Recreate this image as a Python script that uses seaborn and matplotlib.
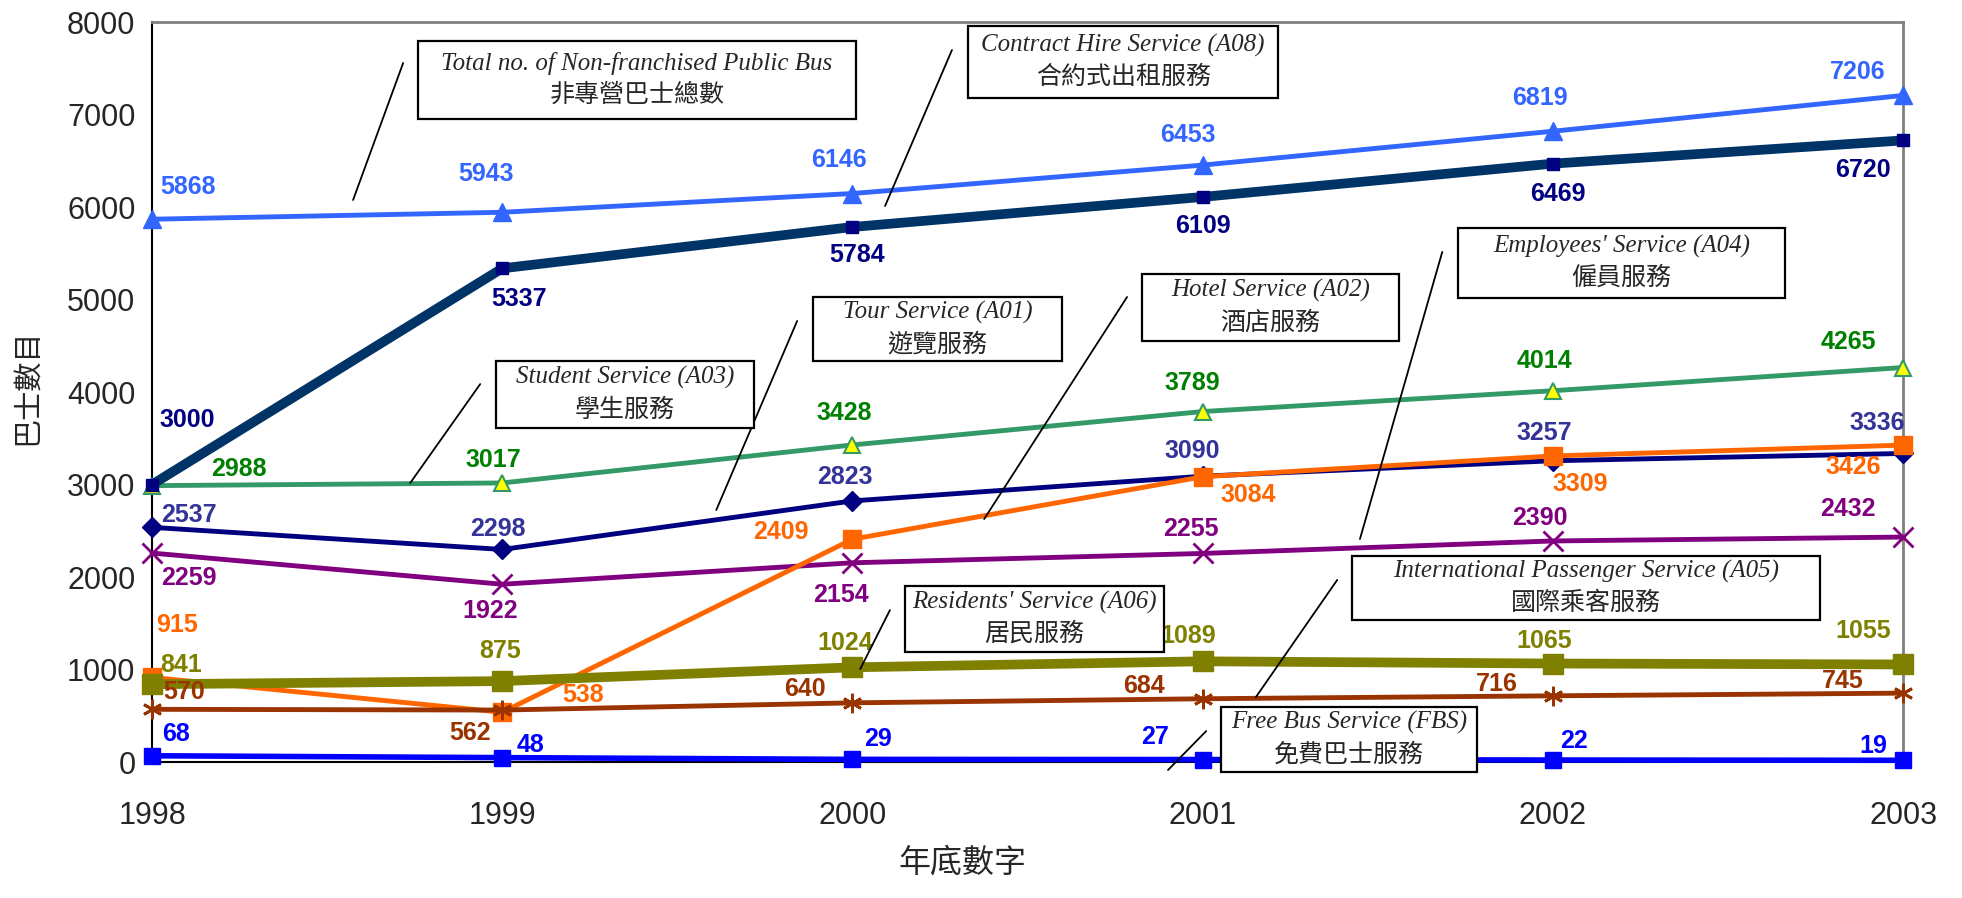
import matplotlib
matplotlib.use("Agg")
import matplotlib.pyplot as plt
from matplotlib.patches import Rectangle
import seaborn as sns

# values (buses at year end)
years = [1998, 1999, 2000, 2001, 2002, 2003]
total = [5868, 5943, 6146, 6453, 6819, 7206]
contract_hire = [3000, 5337, 5784, 6109, 6469, 6720]
student = [2988, 3017, 3428, 3789, 4014, 4265]
tour = [2537, 2298, 2823, 3090, 3257, 3336]
hotel = [915, 538, 2409, 3084, 3309, 3426]
employees = [2259, 1922, 2154, 2255, 2390, 2432]
residents = [841, 875, 1024, 1089, 1065, 1055]
international = [570, 562, 640, 684, 716, 745]
free_bus = [68, 48, 29, 27, 22, 19]

callout_en = ["Total no. of Non-franchised Public Bus", "Contract Hire Service (A08)",
              "Student Service (A03)", "Tour Service (A01)", "Hotel Service (A02)",
              "Employees' Service (A04)", "Residents' Service (A06)",
              "International Passenger Service (A05)", "Free Bus Service (FBS)"]
callout_zh = ["非專營巴士總數", "合約式出租服務", "學生服務", "遊覽服務", "酒店服務",
              "僱員服務", "居民服務", "國際乘客服務", "免費巴士服務"]

sns.set_style("white")
plt.rcParams['font.family'] = ['Liberation Sans', 'Noto Sans CJK TC', 'DejaVu Sans']

fig, ax = plt.subplots(figsize=(19.62, 8.98), dpi=100)
fig.subplots_adjust(left=0.0775, right=0.970, bottom=0.1514, top=0.9755)

# label offsets in pixels (dx, dy) for each point
series = [
    # values, line colour, lw, marker, ms, face, edge, mew, label colour, offsets, z
    (total, '#3366FF', 3.5, '^', 13, '#3366FF', '#3366FF', 1, '#3366FF',
     [(36, 32), (-16, 38), (-14, 34), (-15, 30), (-13, 33), (-45, 23)], 3),
    (student, '#339966', 3.5, '^', 12, '#FFFF00', '#339966', 1.5, '#008000',
     [(87, 17), (-9, 23), (-8, 32), (-10, 29), (-8, 30), (-55, 26)], 4),
    (contract_hire, '#003366', 7, 's', 8, '#000080', '#000080', 1, '#000080',
     [(35, 65), (17, -31), (5, -28), (0, -29), (5, -30), (-40, -30)], 5),
    (tour, '#000080', 3.5, 'D', 10, '#000080', '#000080', 1, '#333399',
     [(37, 12), (-4, 20), (-8, 24), (-10, 25), (-9, 28), (-26, 30)], 6),
    (employees, '#800080', 3.5, 'x', 14, '#800080', '#800080', 2, '#800080',
     [(37, -25), (-12, -27), (-12, -32), (-12, 24), (-13, 23), (-55, 28)], 7),
    (hotel, '#FF6600', 3.5, 's', 13, '#FF6600', '#FF6600', 1, '#FF6600',
     [(25, 52), (81, 17), (-72, 7), (46, -18), (27, -28), (-50, -22)], 8),
    (residents, '#808000', 7, 's', 14, '#808000', '#808000', 1, '#808000',
     [(29, 19), (-2, 30), (-7, 24), (-15, 25), (-9, 23), (-40, 33)], 9),
    (international, '#993300', 3.5, (6, 2, 0), 14, '#993300', '#993300', 2, '#993300',
     [(32, 17), (-32, -23), (-48, 14), (-59, 13), (-56, 12), (-60, 12)], 10),
    (free_bus, '#0000FF', 4, 's', 11, '#0000FF', '#0000FF', 1, '#0000FF',
     [(24, 22), (28, 13), (26, 20), (-48, 23), (21, 19), (-30, 14)], 11),
]

for vals, lc, lw, mk, ms, mfc, mec, mew, tc, offs, z in series:
    sns.lineplot(x=years, y=vals, ax=ax, color=lc, linewidth=lw, marker=mk,
                 markersize=ms, markerfacecolor=mfc, markeredgecolor=mec,
                 markeredgewidth=mew, zorder=z, clip_on=False, errorbar=None)
    for x, v, (dx, dy) in zip(years, vals, offs):
        ax.annotate(str(v), (x, v), xytext=(dx, dy), textcoords='offset pixels',
                    ha='center', va='center', color=tc, fontsize=18,
                    fontweight='bold', family='Liberation Sans', zorder=20)

# callout boxes: (x0, x1, y_bottom, y_top) in data coords, and leader lines
box_extent = [(1998.760, 2000.010, 6951, 7795), (2000.330, 2001.215, 7178, 7957),
              (1998.982, 1999.719, 3611, 4335), (1999.888, 2000.598, 4335, 5027),
              (2000.827, 2001.561, 4551, 5276), (2001.729, 2002.663, 5016, 5773),
              (2000.150, 2000.890, 1189, 1903), (2001.427, 2002.763, 1535, 2227),
              (2001.053, 2001.784, -108, 595)]
leaders = [((1998.574, 6076), (1998.717, 7557)), ((2000.093, 6011), (2000.284, 7697)),
           ((1998.737, 3016), (1998.937, 4086)), ((1999.611, 2724), (1999.842, 4768)),
           ((2000.376, 2627), (2000.784, 5027)), ((2001.449, 2411), (2001.684, 5514)),
           ((2000.022, 1005), (2000.107, 1643)), ((2001.152, 703), (2001.384, 1968)),
           ((2000.901, -86), (2001.010, 335))]

for en, zh, (x0, x1, y0, y1) in zip(callout_en, callout_zh, box_extent):
    ax.add_patch(Rectangle((x0, y0), x1 - x0, y1 - y0, fc='white', ec='black',
                           lw=1.6, zorder=25, clip_on=False))
    cx, cy = (x0 + x1) / 2, (y0 + y1) / 2
    ax.annotate(en, (cx, cy), xytext=(0, 17), textcoords='offset pixels',
                ha='center', va='center', fontsize=18, style='italic',
                family='Liberation Serif', zorder=26)
    ax.annotate(zh, (cx, cy), xytext=(0, -15), textcoords='offset pixels',
                ha='center', va='center', fontsize=18, family='Noto Sans CJK TC',
                zorder=26)

for (x0, y0), (x1, y1) in leaders:
    ax.plot([x0, x1], [y0, y1], color='black', lw=1.3, zorder=24, clip_on=False)

ax.set_xlim(1998, 2003)
ax.set_ylim(0, 8000)
ax.set_xticks(years)
ax.set_yticks(range(0, 8001, 1000))
ax.tick_params(axis='y', direction='in', length=7, width=1.5, pad=12, labelsize=22)
ax.tick_params(axis='x', length=0, pad=28, labelsize=22)
ax.set_xlabel('')
ax.set_ylabel('')
for side in ['top', 'right']:
    ax.spines[side].set_color('#808080')
    ax.spines[side].set_linewidth(2)
for side in ['left', 'bottom']:
    ax.spines[side].set_color('black')
    ax.spines[side].set_linewidth(1.5)

fig.text(962 / 1962, 1 - 862 / 898, '年底數字', ha='center', va='center', fontsize=23,
         family=['Noto Sans CJK TC'])
fig.text(27 / 1962, 1 - 387 / 898, '巴士數目', ha='center', va='center', fontsize=21,
         rotation=90, family=['Noto Sans CJK TC'])

fig.savefig('out.png', dpi=100)
